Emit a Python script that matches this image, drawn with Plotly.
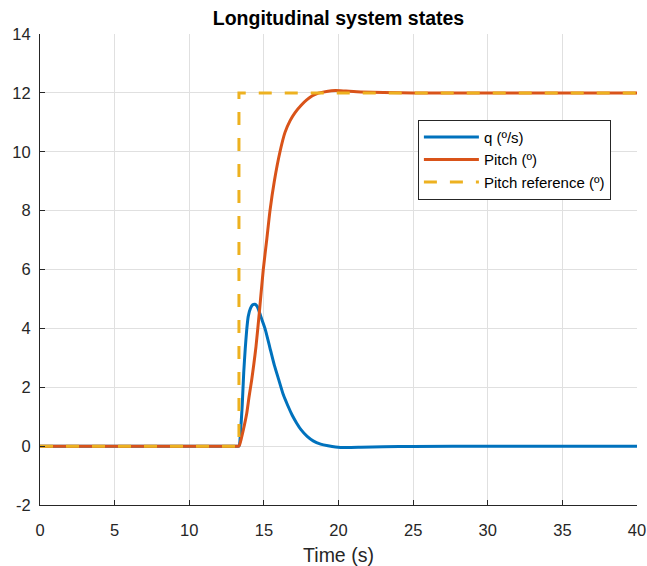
import plotly.graph_objects as go

# ---- data ----
t_q = [0, 13.2, 13.33, 13.45, 13.55, 13.65, 13.75, 13.85, 13.95, 14.1, 14.25, 14.4, 14.55, 14.7,
       14.9, 15.1, 15.4, 15.7, 16.0, 16.3, 16.6, 16.9, 17.2, 17.5, 17.9, 18.3, 18.8, 19.3,
       19.8, 20.5, 21.5, 23, 25, 30, 40]
q = [0, 0, 0, 0.6, 1.4, 2.5, 3.3, 3.95, 4.4, 4.68, 4.8, 4.82, 4.75, 4.55,
     4.25, 3.95, 3.35, 2.75, 2.25, 1.75, 1.38, 1.05, 0.78, 0.55, 0.33, 0.18, 0.07, 0.01,
     -0.03, -0.05, -0.04, -0.02, -0.01, 0, 0]

t_pitch = [0, 13.2, 13.33, 13.4, 13.6, 13.85, 14.0, 14.18, 14.33, 14.47, 14.69, 14.96, 15.2,
           15.41, 15.7, 16.08, 16.41, 16.75, 17.09, 17.5, 17.87, 18.25, 18.65, 19.2, 19.8,
           20.5, 21.5, 23, 25, 40]
pitch = [0, 0, 0, 0.09, 0.5, 1.11, 1.65, 2.24, 2.8, 3.37, 4.51, 6.0, 7.05,
         8.0, 9.0, 10.0, 10.65, 11.05, 11.33, 11.58, 11.76, 11.9, 11.99, 12.05, 12.08,
         12.06, 12.03, 12.01, 12.0, 12.0]

t_ref = [0, 13.33, 13.33, 40]
pitch_ref = [0, 0, 12, 12]

x_ticks = [0, 5, 10, 15, 20, 25, 30, 35, 40]
y_ticks = [-2, 0, 2, 4, 6, 8, 10, 12, 14]
y_tick_text = ["-2", "0", "2", "4", "6", "8", "10", "12", "14"]

FONT = "Liberation Sans, Arial, sans-serif"

W, H = 647, 566
L, R, T, B = 40, 10, 34, 61

fig = go.Figure()
fig.add_trace(go.Scatter(x=t_q, y=q, mode="lines", name="q (º/s)",
                         line=dict(color="#0072BD", width=3, shape="spline", smoothing=0.6)))
fig.add_trace(go.Scatter(x=t_pitch, y=pitch, mode="lines", name="Pitch (º)",
                         line=dict(color="#D95319", width=3, shape="spline", smoothing=0.6)))
fig.add_trace(go.Scatter(x=t_ref, y=pitch_ref, mode="lines", name="Pitch reference (º)",
                         line=dict(color="#EDB120", width=3, dash="13px,13px")))

axis_common = dict(
    showgrid=True, gridcolor="#e0e0e0", gridwidth=1,
    showline=True, linecolor="#262626", linewidth=1,
    ticks="inside", ticklen=5, tickcolor="#262626",
    zeroline=False, mirror=False, automargin=False,
    ticklabeloverflow="allow",
    tickfont=dict(family=FONT, size=16.5, color="#262626"),
)

fig.update_layout(
    width=W, height=H,
    margin=dict(l=L, r=R, t=T, b=B, autoexpand=False),
    paper_bgcolor="white", plot_bgcolor="white",
    title=dict(text="<b>Longitudinal system states</b>",
               x=(L + (W - R)) / 2 / W, xanchor="center",
               y=1 - 18 / H, yanchor="middle",
               font=dict(family=FONT, size=19.5, color="black")),
    xaxis=dict(range=[0, 40], tickvals=x_ticks, ticklabelstandoff=10, **axis_common,
               title=dict(text="Time (s)", font=dict(family=FONT, size=19.5, color="#262626"),
                          standoff=14)),
    yaxis=dict(range=[-2, 14], tickvals=y_ticks, ticktext=y_tick_text,
               ticklabelstandoff=5, **axis_common),
    legend=dict(x=0.633, y=0.818, xanchor="left", yanchor="top",
                bgcolor="white", bordercolor="#262626", borderwidth=1,
                font=dict(family=FONT, size=15, color="black"),
                itemwidth=55, tracegroupgap=0),
    showlegend=True,
)

fig.write_html(
    "out.html",
    config={"displayModeBar": False},
    post_script="document.body.style.margin='0';document.body.style.overflow='hidden';",
)
